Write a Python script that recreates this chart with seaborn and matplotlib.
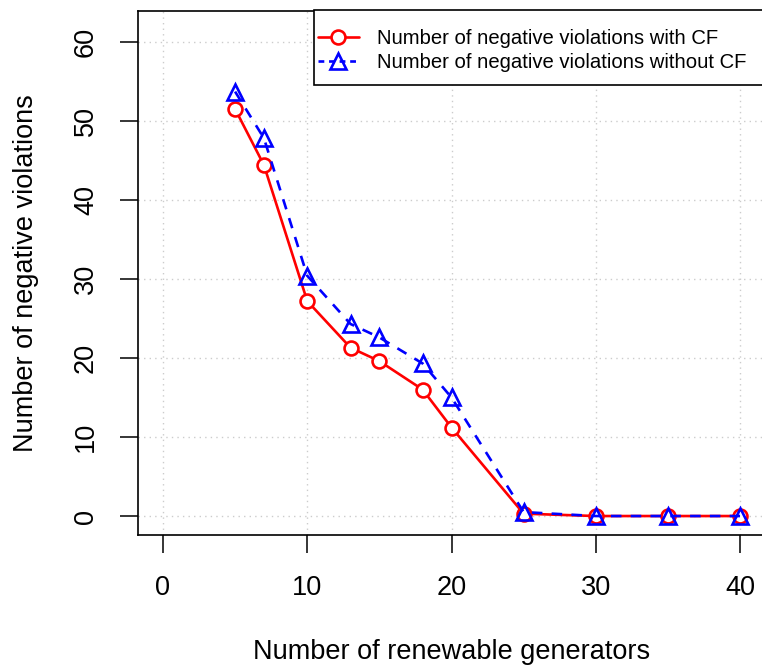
import matplotlib
matplotlib.use("Agg")
import matplotlib.pyplot as plt
from matplotlib.patches import Rectangle
import seaborn as sns
import pandas as pd

generators = [5, 7, 10, 13, 15, 18, 20, 25, 30, 35, 40]
with_cf = [51.5, 44.4, 27.2, 21.3, 19.6, 16.0, 11.2, 0.3, 0.0, 0.0, 0.0]
without_cf = [53.7, 47.8, 30.4, 24.3, 22.6, 19.3, 15.0, 0.5, 0.0, 0.0, 0.0]
x_ticks = [0, 10, 20, 30, 40]
y_ticks = [0, 10, 20, 30, 40, 50, 60]
label_with = "Number of negative violations with CF"
label_without = "Number of negative violations without CF"

sns.set_theme(style="ticks")
plt.rcParams['font.family'] = ['Liberation Sans', 'DejaVu Sans']
plt.rcParams['text.color'] = 'black'

W, H = 762, 668
fig = plt.figure(figsize=(W / 100, H / 100), dpi=100)
left, right, top, bottom = 138, 765, 11, 535
ax = fig.add_axes([left / W, 1 - bottom / H, (right - left) / W, (bottom - top) / H])

df1 = pd.DataFrame({"x": generators, "y": with_cf})
df2 = pd.DataFrame({"x": generators, "y": without_cf})

sns.lineplot(data=df1, x="x", y="y", ax=ax, color="#ff0000", lw=1.9,
             marker="o", markersize=10, markerfacecolor="white",
             markeredgecolor="#ff0000", markeredgewidth=1.9, label=label_with,
             zorder=3)
sns.lineplot(data=df2, x="x", y="y", ax=ax, color="#0000ff", lw=1.9,
             marker="^", markersize=12, markerfacecolor="none",
             markeredgecolor="#0000ff", markeredgewidth=1.9, label=label_without,
             dashes=False, zorder=4)
ax.lines[-1].set_dashes((4, 3.5))

ax.set_xlim(-1.73, 41.73)
ax.set_ylim(-2.4, 63.9)
ax.set_xticks(x_ticks)
ax.set_yticks(y_ticks)
ax.grid(True, color="#cccccc", linestyle=(0, (1, 3)), lw=1.0)
ax.set_axisbelow(True)

for s in ax.spines.values():
    s.set_color("black")
    s.set_linewidth(1.2)
    s.set_visible(True)

ax.tick_params(axis="both", direction="out", length=13, width=1.1, color="black",
               labelsize=19.5, labelcolor="black")
ax.tick_params(axis="x", pad=16)
ax.tick_params(axis="y", pad=15)
for lbl in ax.get_yticklabels():
    lbl.set_rotation(90)
    lbl.set_va("center")

ax.set_xlabel("Number of renewable generators", fontsize=19.5, color="black", va="top")
ax.xaxis.set_label_coords(0.5, -(639 - bottom) / (bottom - top))
ax.set_ylabel("Number of negative violations", fontsize=19.5, color="black", va="center")
ax.yaxis.set_label_coords((26 - left) / (right - left), 0.5)

leg = ax.legend(loc="center left", bbox_to_anchor=(318 / W, 1 - 50.5 / H),
                bbox_transform=fig.transFigure, frameon=False, fontsize=14.6,
                handlelength=2.0, handletextpad=0.9, labelspacing=0.22,
                borderpad=0, borderaxespad=0, labelcolor="black")
leg.legend_handles[1].set_dashes((2.2, 1.8))
fig.patches.append(Rectangle((314 / W, 1 - 85 / H), (790 - 314) / W, 75 / H,
                             transform=fig.transFigure, fill=True,
                             facecolor="white", edgecolor="black", lw=1.2,
                             zorder=5))
leg.remove()
fig.legends.append(leg)
leg.set_figure(fig)

fig.savefig("out.png", dpi=100)
